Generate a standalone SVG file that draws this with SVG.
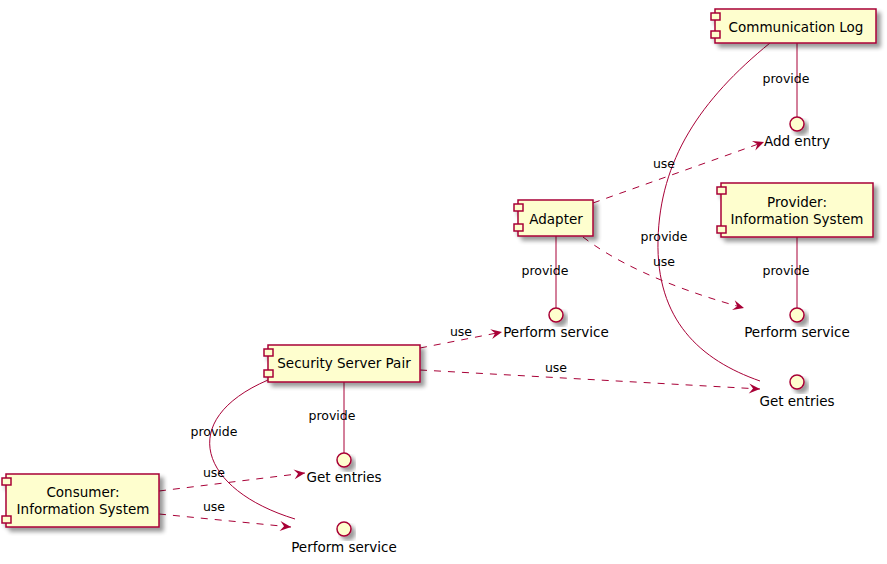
<svg xmlns="http://www.w3.org/2000/svg" width="887" height="564" viewBox="0 0 887 564">
<defs>
<filter id="sh" x="-20%" y="-20%" width="150%" height="150%">
<feGaussianBlur in="SourceAlpha" stdDeviation="2"/>
<feOffset dx="4" dy="4" result="o"/>
<feComponentTransfer><feFuncA type="linear" slope="0.4"/></feComponentTransfer>
<feMerge><feMergeNode/><feMergeNode in="SourceGraphic"/></feMerge>
</filter>
<marker id="arr" viewBox="-12 -6 13 12" refX="0" refY="0" markerWidth="13" markerHeight="12" markerUnits="userSpaceOnUse" orient="auto">
<path d="M0,0 L-11,-5 L-7,0 L-11,5 Z" fill="#A80036"/>
</marker>
</defs>
<style>
.box{fill:#FEFECE;stroke:#A80036;stroke-width:1.5}
.nt{font-family:"DejaVu Sans",sans-serif;font-size:13.5px;fill:#000;text-anchor:middle}
.el{font-family:"DejaVu Sans",sans-serif;font-size:12.5px;fill:#000;text-anchor:middle}
.ln{fill:none;stroke:#A80036;stroke-width:1}
.ds{fill:none;stroke:#A80036;stroke-width:1;stroke-dasharray:7,7}
</style>
<rect width="887" height="564" fill="#fff"/>

<g id="connectors">
<path class="ln" d="M797,43 L797,117"/>
<path class="ln" d="M770,43 C700,100 660,160 658,240 C656,320 700,360 760,381"/>
<path class="ds" d="M593,203 L764,142" marker-end="url(#arr)"/>
<path class="ds" d="M583,237 C610,258 660,285 744,308" marker-end="url(#arr)"/>
<path class="ln" d="M556,236 L556,308"/>
<path class="ln" d="M797,237 L797,308"/>
<path class="ds" d="M420,348 L502,332" marker-end="url(#arr)"/>
<path class="ds" d="M420,370 L760,389" marker-end="url(#arr)"/>
<path class="ln" d="M344,382 L344,453"/>
<path class="ln" d="M268,380 C175,420 200,490 295,519"/>
<path class="ds" d="M159,491 L305,473" marker-end="url(#arr)"/>
<path class="ds" d="M159,514 L291,527" marker-end="url(#arr)"/>
<text class="el" x="786" y="83">provide</text>
<text class="el" x="664" y="241">provide</text>
<text class="el" x="664" y="168">use</text>
<text class="el" x="664" y="266">use</text>
<text class="el" x="545" y="275">provide</text>
<text class="el" x="786" y="275">provide</text>
<text class="el" x="461" y="336">use</text>
<text class="el" x="556" y="372">use</text>
<text class="el" x="332" y="420">provide</text>
<text class="el" x="214" y="436">provide</text>
<text class="el" x="214" y="477">use</text>
<text class="el" x="214" y="511">use</text>
</g>

<g id="commlog">
<g filter="url(#sh)">
<rect class="box" x="715" y="9" width="161" height="34"/>
<rect class="box" x="711" y="13" width="9" height="7"/>
<rect class="box" x="711" y="31" width="9" height="7"/>
</g>
<text class="nt" x="796" y="32">Communication Log</text>
</g>

<g id="adapter">
<g filter="url(#sh)">
<rect class="box" x="518" y="200" width="75" height="36"/>
<rect class="box" x="514" y="204" width="9" height="7"/>
<rect class="box" x="514" y="224" width="9" height="7"/>
</g>
<text class="nt" x="556" y="224">Adapter</text>
</g>

<g id="provider">
<g filter="url(#sh)">
<rect class="box" x="721" y="183" width="152" height="54"/>
<rect class="box" x="717" y="187" width="9" height="7"/>
<rect class="box" x="717" y="226" width="9" height="7"/>
</g>
<text class="nt" x="797" y="207">Provider:</text>
<text class="nt" x="797" y="224">Information System</text>
</g>

<g id="ssp">
<g filter="url(#sh)">
<rect class="box" x="268" y="345" width="152" height="37"/>
<rect class="box" x="264" y="349" width="9" height="7"/>
<rect class="box" x="264" y="370" width="9" height="7"/>
</g>
<text class="nt" x="344" y="368">Security Server Pair</text>
</g>

<g id="consumer">
<g filter="url(#sh)">
<rect class="box" x="6" y="474" width="153" height="53"/>
<rect class="box" x="2" y="478" width="9" height="7"/>
<rect class="box" x="2" y="516" width="9" height="7"/>
</g>
<text class="nt" x="83" y="497">Consumer:</text>
<text class="nt" x="83" y="514">Information System</text>
</g>

<g id="if-addentry">
<circle class="box" cx="797" cy="124" r="7" filter="url(#sh)"/>
<text class="nt" x="797" y="146">Add entry</text>
</g>
<g id="if-adapter-perform">
<circle class="box" cx="556" cy="315" r="7" filter="url(#sh)"/>
<text class="nt" x="556" y="337">Perform service</text>
</g>
<g id="if-provider-perform">
<circle class="box" cx="797" cy="315" r="7" filter="url(#sh)"/>
<text class="nt" x="797" y="337">Perform service</text>
</g>
<g id="if-log-get">
<circle class="box" cx="797" cy="382" r="7" filter="url(#sh)"/>
<text class="nt" x="797" y="406">Get entries</text>
</g>
<g id="if-ssp-get">
<circle class="box" cx="344" cy="460" r="7" filter="url(#sh)"/>
<text class="nt" x="344" y="482">Get entries</text>
</g>
<g id="if-ssp-perform">
<circle class="box" cx="344" cy="529" r="7" filter="url(#sh)"/>
<text class="nt" x="344" y="552">Perform service</text>
</g>
</svg>
